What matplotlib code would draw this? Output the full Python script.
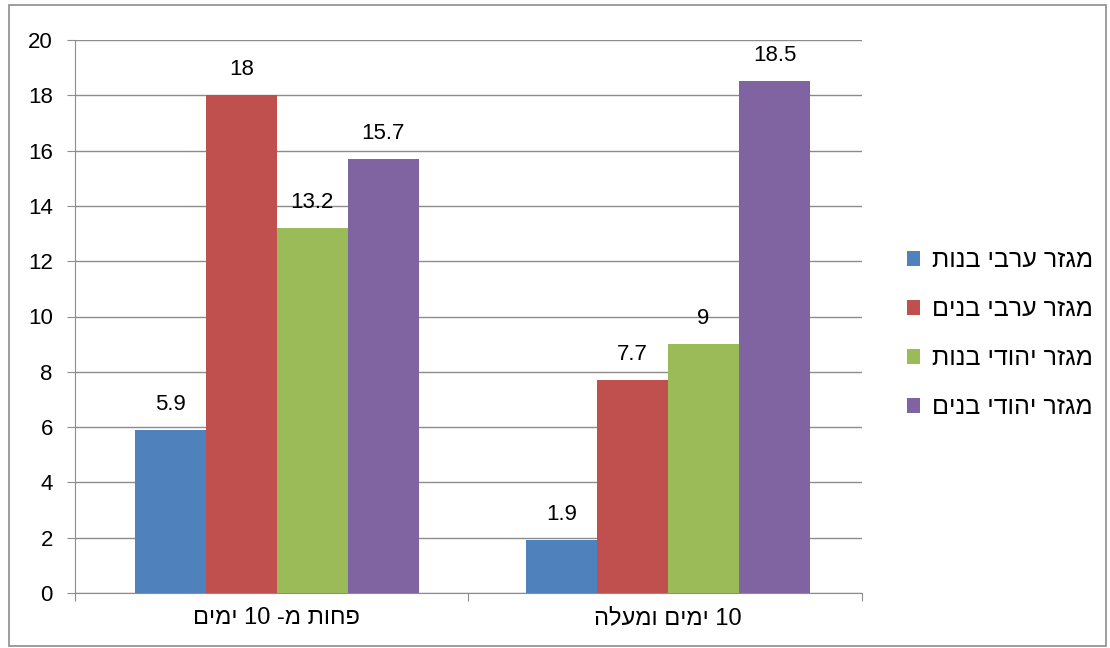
import matplotlib
matplotlib.use('Agg')
from matplotlib import pyplot as plt
import numpy as np
import re

plt.rcParams['font.family'] = ['Liberation Sans', 'DejaVu Sans']

categories = ['פחות מ- 10 ימים', '10 ימים ומעלה']
series_names = ['מגזר ערבי בנות', 'מגזר ערבי בנים', 'מגזר יהודי בנות', 'מגזר יהודי בנים']
values = [
    [5.9, 1.9],
    [18, 7.7],
    [13.2, 9],
    [15.7, 18.5],
]
colors = ['#4F81BD', '#C0504D', '#9BBB59', '#8064A2']
yticks = [0, 2, 4, 6, 8, 10, 12, 14, 16, 18, 20]


def rtl(s):
    # matplotlib draws left to right: flip the hebrew, keep the digit runs readable
    return re.sub(r'\d+', lambda m: m.group(0)[::-1], s[::-1])


fig = plt.figure(figsize=(11.1, 6.48), dpi=100)
ax = fig.add_axes([75/1110, 1 - 593/648, 787/1110, 553/648])

# border around whole figure
fig.patches.append(plt.Rectangle((0.008, 0.003), 0.988, 0.99, transform=fig.transFigure,
                                 fill=False, edgecolor='#8C8C8C', linewidth=1.2))

x = np.arange(len(categories))
w = 0.1816
for i, (name, vals, c) in enumerate(zip(series_names, values, colors)):
    pos = x + (i - 1.5) * w
    ax.bar(pos, vals, w, color=c, label=rtl(name), zorder=3)
    for p, v in zip(pos, vals):
        ax.annotate(f'{v:g}', (p, v), xytext=(0, 11), textcoords='offset points',
                    ha='center', va='bottom', fontsize=16)

ax.set_xlim(-0.516, 1.496)
ax.set_ylim(0, 20)
ax.set_yticks(yticks)
ax.set_yticklabels([str(t) for t in yticks], fontsize=16)
ax.yaxis.grid(True, color='#8C8C8C', linewidth=1, zorder=0)
ax.set_axisbelow(True)

ax.set_xticks([-0.516, 0.49, 1.496])
ax.set_xticklabels([])
ax.set_xticks(x, minor=True)
ax.set_xticklabels([rtl(c) for c in categories], minor=True, fontsize=17)
ax.tick_params(axis='x', which='minor', length=0, pad=10)
ax.tick_params(axis='x', which='major', length=6, color='#8C8C8C')
ax.tick_params(axis='y', length=6, color='#8C8C8C', pad=10)

for s in ['top', 'right']:
    ax.spines[s].set_visible(False)
for s in ['left', 'bottom']:
    ax.spines[s].set_color('#8C8C8C')

ax.legend(loc='center left', bbox_to_anchor=(1.028, 0.469), frameon=False, fontsize=18,
          handlelength=0.55, handleheight=0.55, handletextpad=0.45, labelspacing=1.0)

plt.savefig('out.png')
plt.close()
